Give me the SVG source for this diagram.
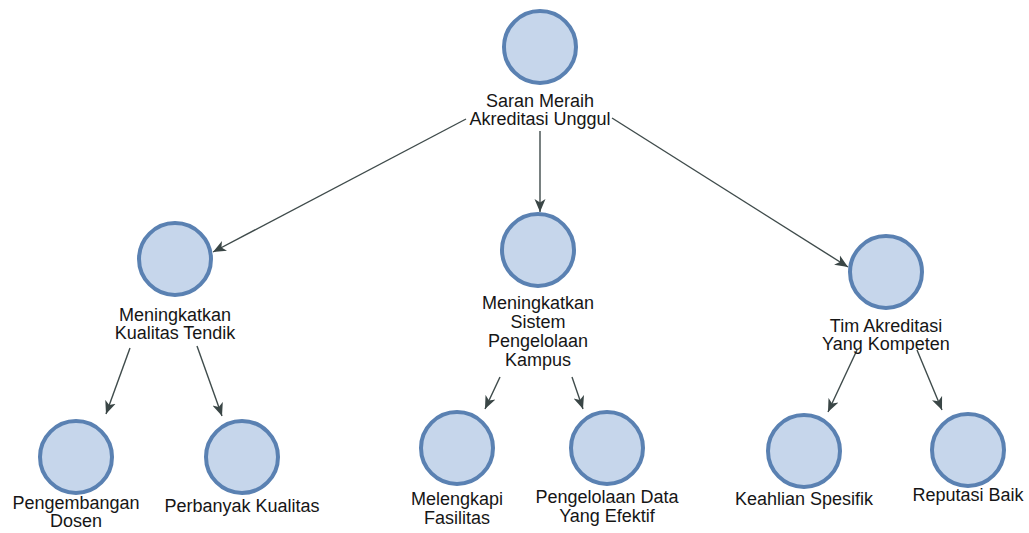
<svg xmlns="http://www.w3.org/2000/svg" width="1029" height="533" viewBox="0 0 1029 533">
<style>
.n{fill:#c6d6eb;stroke:#5a81b2;stroke-width:4}
.t{font-family:"Liberation Sans",Arial,sans-serif;font-size:18px;fill:#161616;text-anchor:middle}
.e{stroke:#3f4b4b;stroke-width:1.4;fill:none;marker-end:url(#a)}
</style>
<defs>
<marker id="a" markerUnits="userSpaceOnUse" markerWidth="14" markerHeight="12" refX="13" refY="6" orient="auto">
<path d="M0,0.5 L13,6 L0,11.5 L3.5,6 Z" fill="#3a4646"/>
</marker>
</defs>
<rect width="1029" height="533" fill="#ffffff"/>
<g id="connectors">
<line class="e" x1="466" y1="119" x2="213" y2="252"/>
<line class="e" x1="540" y1="131" x2="540" y2="212"/>
<line class="e" x1="612" y1="118" x2="848" y2="267"/>
<line class="e" x1="130" y1="348" x2="106" y2="414"/>
<line class="e" x1="197" y1="346" x2="222" y2="416"/>
<line class="e" x1="500" y1="377" x2="485" y2="409"/>
<line class="e" x1="572" y1="377" x2="583" y2="409"/>
<line class="e" x1="857" y1="350" x2="828" y2="412"/>
<line class="e" x1="917" y1="350" x2="942" y2="410"/>
</g>
<g id="root">
<circle class="n" cx="540" cy="47" r="36"/>
<text class="t" x="540" y="107">Saran Meraih</text>
<text class="t" x="540" y="125">Akreditasi Unggul</text>
</g>
<g id="n-kualitas-tendik">
<circle class="n" cx="175" cy="259" r="36"/>
<text class="t" x="175" y="321">Meningkatkan</text>
<text class="t" x="175" y="339">Kualitas Tendik</text>
</g>
<g id="n-sistem">
<circle class="n" cx="538" cy="250" r="36"/>
<text class="t" x="538" y="309">Meningkatkan</text>
<text class="t" x="538" y="328">Sistem</text>
<text class="t" x="538" y="347">Pengelolaan</text>
<text class="t" x="538" y="366">Kampus</text>
</g>
<g id="n-tim">
<circle class="n" cx="886" cy="272" r="36"/>
<text class="t" x="886" y="332">Tim Akreditasi</text>
<text class="t" x="886" y="350">Yang Kompeten</text>
</g>
<g id="n-dosen">
<circle class="n" cx="76" cy="457" r="36"/>
<text class="t" x="76" y="509">Pengembangan</text>
<text class="t" x="76" y="527">Dosen</text>
</g>
<g id="n-perbanyak">
<circle class="n" cx="242" cy="457" r="36"/>
<text class="t" x="242" y="512">Perbanyak Kualitas</text>
</g>
<g id="n-fasilitas">
<circle class="n" cx="457" cy="448" r="36"/>
<text class="t" x="457" y="505">Melengkapi</text>
<text class="t" x="457" y="524">Fasilitas</text>
</g>
<g id="n-data">
<circle class="n" cx="607" cy="448" r="36"/>
<text class="t" x="607" y="503">Pengelolaan Data</text>
<text class="t" x="607" y="522">Yang Efektif</text>
</g>
<g id="n-keahlian">
<circle class="n" cx="804" cy="451" r="36"/>
<text class="t" x="804" y="505">Keahlian Spesifik</text>
</g>
<g id="n-reputasi">
<circle class="n" cx="968" cy="450" r="36"/>
<text class="t" x="968" y="501">Reputasi Baik</text>
</g>
</svg>
